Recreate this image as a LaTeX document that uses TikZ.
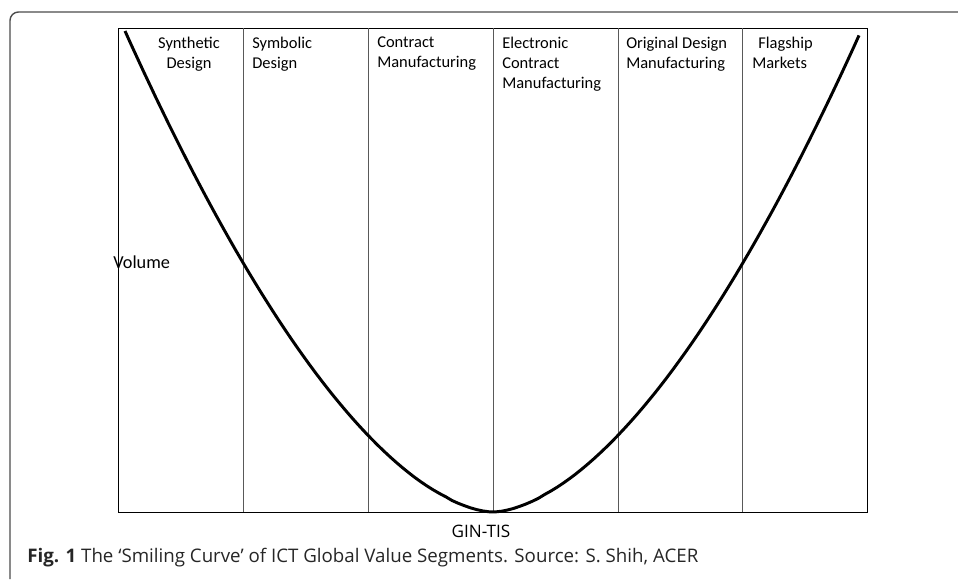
\documentclass[tikz,border=0pt]{standalone}
\usepackage{fontspec}
\setmainfont{Carlito}
\newfontfamily\capfont{Open Sans}
\definecolor{rahmen}{gray}{0.3}
\definecolor{linie}{gray}{0.35}

\begin{document}
\begin{tikzpicture}[x=0.025cm,y=-0.025cm,
  kopf/.style={anchor=north west,inner sep=0,align=left,font=\fontsize{11.7}{14.2}\selectfont},
  kurve/.style={line width=2.1pt,black,line join=round}]
\useasboundingbox (0,0) rectangle (958,579);
%\draw[help lines,yellow,thin] (0,0) grid[step=50] (958,579);
\draw [rahmen,line width=1pt,rounded corners=6pt] (958,12) -- (10,12) -- (10,579);
\draw [line width=0.7pt] (118,28) rectangle (867,512);
\draw [linie,line width=0.7pt] (243,28) -- (243,512);
\draw [linie,line width=0.7pt] (368,28) -- (368,512);
\draw [linie,line width=0.7pt] (493,28) -- (493,512);
\draw [linie,line width=0.7pt] (618,28) -- (618,512);
\draw [linie,line width=0.7pt] (742,28) -- (742,512);
\node  [kopf,align=center,anchor=north] (s1) at (189,37){Synthetic\\Design};
\node  [kopf] (s2) at (252,37){Symbolic\\Design};
\node  [kopf] (s3) at (377,37){Contract\\Manufacturing};
\node  [kopf] (s4) at (502,37){Electronic\\Contract\\Manufacturing};
\node  [kopf] (s5) at (626,37){Original Design\\Manufacturing};
\node  [kopf] (s6) at (752,37){\hspace*{4.3pt}Flagship\\Markets};
\node  [anchor=base west,inner sep=0,font=\fontsize{13}{15}\selectfont] (V) at (113,268){Volume};
\node  [anchor=base,inner sep=0,font=\capfont\fontsize{12.2}{14}\selectfont] (G) at (481,537){GIN-TIS};
\node  [anchor=base west,inner sep=0,text=black!85,font=\capfont\fontsize{13.3}{15}\selectfont] (cap) at (27,562){\textbf{Fig. 1} The ‘Smiling Curve’ of ICT Global Value Segments. Source: S. Shih, ACER};
\draw [kurve] plot[domain=-368:366,samples=120] ({493+\x},{512-481*(abs(\x)/368)^1.7});
\end{tikzpicture}
\end{document}
